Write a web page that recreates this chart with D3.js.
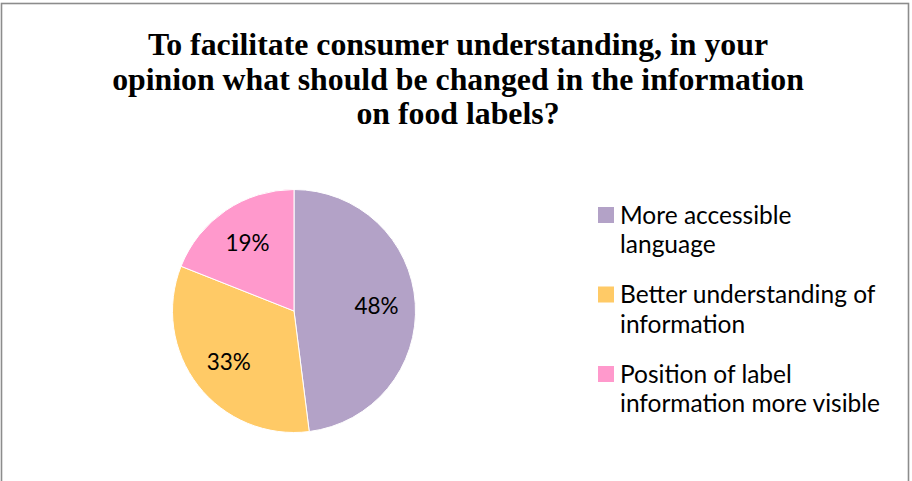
<!DOCTYPE html>
<html>
<head>
<meta charset="utf-8">
<script src="https://cdn.jsdelivr.net/npm/d3@7"></script>
<style>
  html, body { margin: 0; padding: 0; background: #fff; }
  svg { display: block; }
</style>
</head>
<body>
<svg id="chart" width="912" height="481"></svg>
<script>
// Survey responses
const titleLines = [
  "To facilitate consumer understanding, in your",
  "opinion what should be changed in the information",
  "on food labels?"
];
const categories = [
  "More accessible language",
  "Better understanding of information",
  "Position of label information more visible"
];
const legendLines = [
  ["More accessible", "language"],
  ["Better understanding of", "information"],
  ["Position of label", "information more visible"]
];
const shares = [48, 33, 19];
const colors = ["#b3a2c7", "#ffca66", "#ff99cc"];

const svg = d3.select("#chart");
const W = 912, H = 481;

// Chart frame
svg.append("rect")
  .attr("x", 1.5).attr("y", 3.5)
  .attr("width", 907).attr("height", H + 10)
  .attr("fill", "#fff")
  .attr("stroke", "#8c8c8c").attr("stroke-width", 1.6);

// Title
const title = svg.append("text")
  .attr("text-anchor", "middle")
  .attr("font-family", "'Liberation Serif', 'Times New Roman', serif")
  .attr("font-weight", "bold")
  .attr("font-size", 31.8)
  .attr("fill", "#000");
titleLines.forEach((line, i) => {
  title.append("tspan")
    .attr("x", 458)
    .attr("y", 55 + i * 34.5)
    .text(line);
});

// Pie
const cx = 294, cy = 311, r = 121.5;
const data = categories.map((c, i) => ({ name: c, value: shares[i], color: colors[i] }));
const pie = d3.pie().sort(null).value(d => d.value);
const arc = d3.arc().innerRadius(0).outerRadius(r);
const labelArc = d3.arc().innerRadius(r * 0.68).outerRadius(r * 0.68);

const g = svg.append("g").attr("transform", `translate(${cx},${cy})`);
const arcs = pie(data);

g.selectAll("path.slice")
  .data(arcs)
  .join("path")
  .attr("class", "slice")
  .attr("d", arc)
  .attr("fill", d => d.data.color)
  .attr("stroke", "#fff")
  .attr("stroke-width", 1);

g.selectAll("text.pct")
  .data(arcs)
  .join("text")
  .attr("class", "pct")
  .attr("transform", d => `translate(${labelArc.centroid(d)})`)
  .attr("text-anchor", "middle")
  .attr("dy", "0.35em")
  .attr("font-family", "Lato, 'Open Sans', sans-serif")
  .attr("font-size", 22.5)
  .attr("fill", "#000")
  .text(d => d.data.value + "%");

// Legend
const legend = svg.append("g").attr("transform", "translate(598,207)");
const item = legend.selectAll("g.item")
  .data(data)
  .join("g")
  .attr("class", "item")
  .attr("transform", (d, i) => `translate(0, ${i * 79.5})`);

item.append("rect")
  .attr("x", 0).attr("y", 0)
  .attr("width", 16).attr("height", 16)
  .attr("fill", d => d.color);

item.append("text")
  .attr("font-family", "Lato, 'Open Sans', sans-serif")
  .attr("font-size", 24.5)
  .attr("fill", "#000")
  .each(function(d, i) {
    const t = d3.select(this);
    legendLines[i].forEach((line, j) => {
      t.append("tspan")
        .attr("x", 22)
        .attr("y", 16.5 + j * 29.5)
        .text(line);
    });
  });
</script>
</body>
</html>
